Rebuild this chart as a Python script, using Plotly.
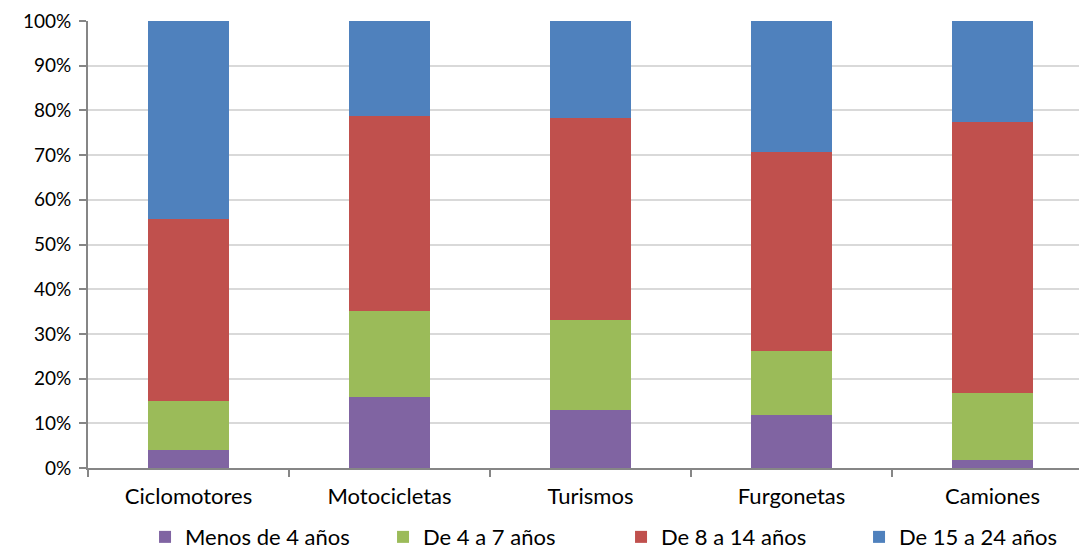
import plotly.graph_objects as go

categories = ["Ciclomotores", "Motocicletas", "Turismos", "Furgonetas", "Camiones"]
series_names = ["Menos de 4 años", "De 4 a 7 años", "De 8 a 14 años", "De 15 a 24 años"]
menos_4 = [4.0, 15.8, 13.0, 11.8, 1.9]
de_4_7 = [11.1, 19.4, 20.1, 14.4, 14.9]
de_8_14 = [40.7, 43.6, 45.1, 44.4, 60.5]
de_15_24 = [44.2, 21.2, 21.8, 29.4, 22.7]
colors = ["#8064A2", "#9BBB59", "#C0504D", "#4F81BD"]

fig = go.Figure()
for name, vals, col in zip(series_names, [menos_4, de_4_7, de_8_14, de_15_24], colors):
    fig.add_trace(go.Bar(x=categories, y=vals, name=name, marker=dict(color=col, line=dict(width=0))))

font = "Lato, Carlito, Calibri, sans-serif"
fig.update_layout(
    barmode="stack",
    bargap=0.6,
    width=1079, height=546,
    margin=dict(l=80, r=0, t=13, b=86, autoexpand=False),
    plot_bgcolor="white", paper_bgcolor="white",
    font=dict(family=font, size=22, color="#000000"),
    legend=dict(orientation="h", x=0.127, xref="container", xanchor="left",
                y=0.031, yref="container", yanchor="middle",
                font=dict(size=22), traceorder="normal", itemwidth=30,
                entrywidth=193),
    showlegend=True,
)
fig.update_xaxes(range=[-0.5, 4.47], showline=True, linecolor="#868686", linewidth=2,
                 ticks="outside", tickson="boundaries", ticklen=7, tickcolor="#868686", tickwidth=2,
                 tickfont=dict(size=22), showgrid=False, ticklabelstandoff=8)
fig.update_yaxes(range=[0, 100], dtick=10, ticksuffix="%", showline=True, linecolor="#868686",
                 linewidth=2, ticks="outside", ticklen=7, tickcolor="#868686", tickwidth=2,
                 gridcolor="#D9D9D9", gridwidth=2, tickfont=dict(size=19), zeroline=False,
                 ticklabelstandoff=4, ticklabeloverflow="allow")

fig.write_html("out.html")
